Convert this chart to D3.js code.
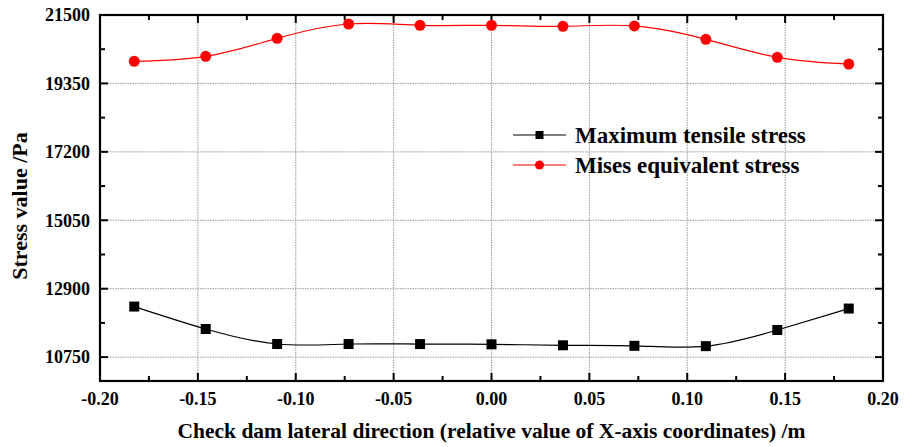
<!DOCTYPE html>
<html>
<head>
<meta charset="utf-8">
<script src="https://cdn.jsdelivr.net/npm/d3@7"></script>
<style>
  body { margin: 0; background: #fff; }
  text { font-family: "Liberation Serif", "Times New Roman", serif; font-weight: bold; fill: #000; }
</style>
</head>
<body>
<div id="chart"></div>
<script>
const xValues = [-0.1825, -0.146, -0.1095, -0.073, -0.0365, 0, 0.0365, 0.073, 0.1095, 0.146, 0.1825];
const tensile = [12339, 11634, 11162, 11162, 11160, 11153, 11122, 11105, 11095, 11603, 12276];
const mises = [20044, 20201, 20767, 21217, 21176, 21176, 21145, 21158, 20736, 20170, 19959];
const xTicks = [-0.20, -0.15, -0.10, -0.05, 0.00, 0.05, 0.10, 0.15, 0.20];
const yTicks = [10750, 12900, 15050, 17200, 19350, 21500];
const seriesNames = ["Maximum tensile stress", "Mises equivalent stress"];

const width = 911, height = 447;
const margin = {top: 15, right: 28, bottom: 66, left: 100};

const svg = d3.select("#chart")
  .append("svg")
  .attr("width", width)
  .attr("height", height);

const x = d3.scaleLinear()
  .domain([-0.2, 0.2])
  .range([margin.left, width - margin.right]);

const y = d3.scaleLinear()
  .domain([10000, 21500])
  .range([height - margin.bottom, margin.top]);

const x0 = x.range()[0], x1 = x.range()[1];
const y0 = y.range()[0], y1 = y.range()[1];

// grid
const grid = svg.append("g")
  .attr("stroke", "#9a9a9a")
  .attr("stroke-width", 1)
  .attr("stroke-dasharray", "1.5,1");
grid.selectAll("line.gx")
  .data(xTicks.slice(1, -1))
  .join("line")
  .attr("x1", d => x(d)).attr("x2", d => x(d))
  .attr("y1", y0).attr("y2", y1);
grid.selectAll("line.gy")
  .data(yTicks.slice(0, -1))
  .join("line")
  .attr("class", "gy")
  .attr("x1", x0).attr("x2", x1)
  .attr("y1", d => y(d)).attr("y2", d => y(d));

// minor ticks sit halfway between major ones
const xMinor = xTicks.slice(0, -1).map((d, i) => (d + xTicks[i + 1]) / 2);
const yMinor = yTicks.slice(0, -1).map((d, i) => (d + yTicks[i + 1]) / 2);

const majorLen = 8, minorLen = 5;
const ticks = svg.append("g").attr("stroke", "#000").attr("stroke-width", 2);

// bottom & top ticks (inward)
[[y0, -1], [y1, 1]].forEach(([yy, dir]) => {
  ticks.append("g").selectAll("line")
    .data(xTicks.map(v => [v, majorLen]).concat(xMinor.map(v => [v, minorLen])))
    .join("line")
    .attr("x1", d => x(d[0])).attr("x2", d => x(d[0]))
    .attr("y1", yy).attr("y2", d => yy + dir * d[1]);
});
// left & right ticks (inward)
[[x0, 1], [x1, -1]].forEach(([xx, dir]) => {
  ticks.append("g").selectAll("line")
    .data(yTicks.map(v => [v, majorLen]).concat(yMinor.map(v => [v, minorLen])))
    .join("line")
    .attr("y1", d => y(d[0])).attr("y2", d => y(d[0]))
    .attr("x1", xx).attr("x2", d => xx + dir * d[1]);
});

// frame
svg.append("rect")
  .attr("x", x0).attr("y", y1)
  .attr("width", x1 - x0).attr("height", y0 - y1)
  .attr("fill", "none")
  .attr("stroke", "#000")
  .attr("stroke-width", 2.2);

// tick labels
svg.append("g").selectAll("text")
  .data(xTicks)
  .join("text")
  .attr("x", d => x(d))
  .attr("y", y0 + 24)
  .attr("text-anchor", "middle")
  .attr("font-size", 18)
  .text(d => d3.format(".2f")(d).replace("\u2212", "-"));

svg.append("g").selectAll("text")
  .data(yTicks)
  .join("text")
  .attr("x", x0 - 10)
  .attr("y", d => y(d))
  .attr("dy", "0.35em")
  .attr("text-anchor", "end")
  .attr("font-size", 18)
  .text(d => d);

// axis titles
svg.append("text")
  .attr("x", (x0 + x1) / 2)
  .attr("y", 438)
  .attr("text-anchor", "middle")
  .attr("font-size", 21.5)
  .text("Check dam lateral direction (relative value of X-axis coordinates) /m");

svg.append("text")
  .attr("transform", `translate(27,${(y0 + y1) / 2 + 8}) rotate(-90)`)
  .attr("text-anchor", "middle")
  .attr("font-size", 22)
  .text("Stress value /Pa");

// series
const line = d3.line()
  .x((d, i) => x(xValues[i]))
  .y(d => y(d))
  .curve(d3.curveNatural);

svg.append("path")
  .datum(tensile)
  .attr("fill", "none")
  .attr("stroke", "#000")
  .attr("stroke-width", 1.2)
  .attr("d", line);

svg.append("path")
  .datum(mises)
  .attr("fill", "none")
  .attr("stroke", "#ff0000")
  .attr("stroke-width", 1.2)
  .attr("d", line);

const sq = 10;
svg.append("g").selectAll("rect")
  .data(tensile)
  .join("rect")
  .attr("x", (d, i) => x(xValues[i]) - sq / 2)
  .attr("y", d => y(d) - sq / 2)
  .attr("width", sq).attr("height", sq)
  .attr("fill", "#000");

svg.append("g").selectAll("circle")
  .data(mises)
  .join("circle")
  .attr("cx", (d, i) => x(xValues[i]))
  .attr("cy", d => y(d))
  .attr("r", 5.5)
  .attr("fill", "#ff0000");

// legend
const legend = svg.append("g").attr("transform", "translate(513,135)");
const colors = ["#000", "#ff0000"];
seriesNames.forEach((name, i) => {
  const g = legend.append("g").attr("transform", `translate(0,${i * 30})`);
  g.append("line")
    .attr("x1", 0).attr("x2", 53)
    .attr("y1", 0).attr("y2", 0)
    .attr("stroke", colors[i])
    .attr("stroke-width", 1.2);
  if (i === 0) {
    g.append("rect").attr("x", 26.5 - 4).attr("y", -4).attr("width", 8).attr("height", 8).attr("fill", colors[i]);
  } else {
    g.append("circle").attr("cx", 26.5).attr("cy", 0).attr("r", 4.5).attr("fill", colors[i]);
  }
  g.append("text")
    .attr("x", 62)
    .attr("dy", "0.35em")
    .attr("font-size", 23)
    .text(name);
});
</script>
</body>
</html>
